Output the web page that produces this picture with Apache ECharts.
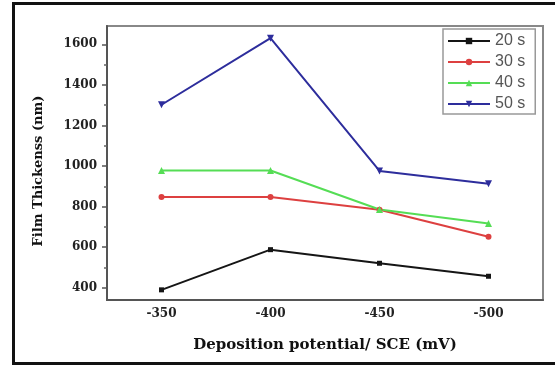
<!DOCTYPE html>
<html>
<head>
<meta charset="utf-8">
<script src="https://cdn.jsdelivr.net/npm/echarts@6/dist/echarts.min.js"></script>
<style>
  html, body { margin: 0; padding: 0; background: #fff; }
  #wrap { position: relative; width: 555px; height: 365px; overflow: hidden; }
  #chart { width: 555px; height: 365px; }
  #frame {
    position: absolute; left: 12px; top: 2px; width: 560px; height: 357px;
    border: 3px solid #111; pointer-events: none;
  }
</style>
</head>
<body>
<div id="wrap">
  <div id="chart"></div>
  <div id="frame"></div>
</div>
<script>
  const potentials = ['-350', '-400', '-450', '-500'];
  const s20 = [390, 588, 521, 457];
  const s30 = [848, 848, 785, 652];
  const s40 = [978, 978, 786, 717];
  const s50 = [1302, 1630, 976, 913];
  const yMajor = [400, 600, 800, 1000, 1200, 1400, 1600];
  const yMinor = [500, 700, 900, 1100, 1300, 1500];

  const serif = '"DejaVu Serif", "Liberation Serif", serif';
  const tickFont = { fontFamily: serif, fontWeight: 'bold', fontSize: 12, color: '#222' };

  function line(name, data, color, symbol, size) {
    return {
      name: name,
      type: 'line',
      data: data,
      symbol: symbol,
      symbolSize: size,
      color: color,
      lineStyle: { width: 2, color: color },
      itemStyle: { color: color },
      xAxisIndex: 0,
      yAxisIndex: 0
    };
  }

  let myChart = echarts.init(document.getElementById('chart'));
  myChart.setOption({
    animation: false,
    grid: {
      left: 107, right: 12, top: 26, bottom: 65,
      show: true, borderColor: '#888', borderWidth: 2
    },
    legend: {
      orient: 'vertical',
      left: 443, top: 29,
      itemWidth: 42, itemHeight: 8, itemGap: 5,
      padding: [4, 10, 2, 4],
      borderColor: '#999', borderWidth: 1.5,
      textStyle: { fontFamily: '"Liberation Sans", Arial, sans-serif', fontSize: 16, color: '#555', lineHeight: 15 },
      data: ['20 s', '30 s', '40 s', '50 s']
    },
    xAxis: [{
      type: 'category',
      data: potentials,
      name: 'Deposition potential/ SCE (mV)',
      nameLocation: 'middle',
      nameGap: 38,
      nameTextStyle: { fontFamily: serif, fontWeight: 'bold', fontSize: 15, color: '#111' },
      axisLine: { lineStyle: { color: '#555', width: 2 } },
      axisTick: { alignWithLabel: true, length: 5, lineStyle: { color: '#555', width: 1.5 } },
      axisLabel: Object.assign({ margin: 8 }, tickFont),
      splitLine: { show: false }
    }, {
      type: 'category',
      data: potentials,
      position: 'bottom',
      axisLine: { show: false },
      axisTick: { interval: 0, length: 3, lineStyle: { color: '#666', width: 1.5 } },
      axisLabel: { show: false },
      splitLine: { show: false }
    }],
    yAxis: [{
      type: 'value',
      min: 340, max: 1690,
      name: 'Film Thickenss (nm)',
      nameLocation: 'middle',
      nameGap: 62,
      nameTextStyle: { fontFamily: serif, fontWeight: 'bold', fontSize: 13, color: '#111', padding: [0, 16, 0, 0] },
      axisLine: { show: true, lineStyle: { color: '#555', width: 2 } },
      axisTick: { show: true, customValues: yMajor, length: 5, lineStyle: { color: '#555', width: 1.5 } },
      axisLabel: Object.assign({ customValues: yMajor, margin: 10, formatter: v => String(v) }, tickFont),
      splitLine: { show: false }
    }, {
      type: 'value',
      min: 340, max: 1690,
      position: 'left',
      axisLine: { show: false },
      axisTick: { show: true, customValues: yMinor, length: 3, lineStyle: { color: '#666', width: 1.5 } },
      axisLabel: { show: false },
      splitLine: { show: false }
    }],
    series: [
      line('20 s', s20, '#151515', 'rect', 5),
      line('30 s', s30, '#dd4040', 'circle', 6),
      line('40 s', s40, '#55dd55', 'triangle', 7),
      line('50 s', s50, '#2d2d9c', 'path://M0,0 L10,0 L5,10 Z', 7)
    ]
  });
</script>
</body>
</html>
